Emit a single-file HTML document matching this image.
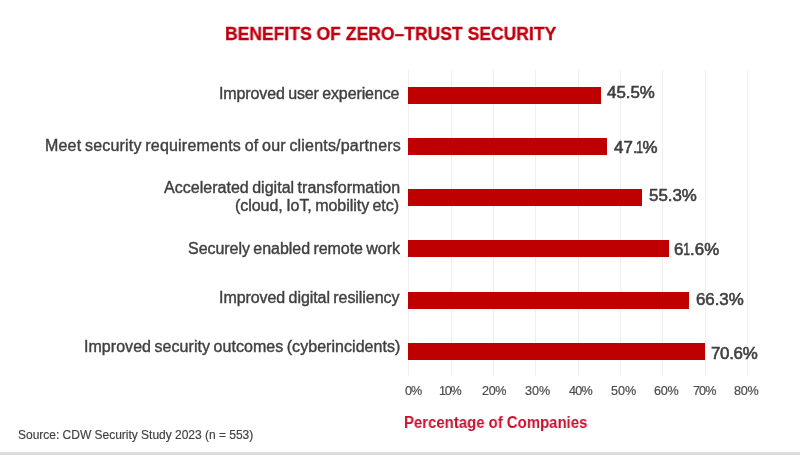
<!DOCTYPE html>
<html>
<head>
<meta charset="utf-8">
<style>
html,body{margin:0;padding:0;}
body{width:800px;height:455px;position:relative;overflow:hidden;background:#fff;font-family:"Liberation Sans",sans-serif;}
.t{position:absolute;white-space:nowrap;line-height:1;will-change:transform;}
.title{font-size:18.4px;font-weight:700;color:#C00010;-webkit-text-stroke:0.3px #C00010;}
.lab{font-size:16px;word-spacing:-1px;color:#404040;-webkit-text-stroke:0.4px #404040;}
.val{font-size:16.9px;color:#404040;-webkit-text-stroke:0.6px #404040;}
.ax{font-size:12.6px;color:#4d4d4d;-webkit-text-stroke:0.2px #4d4d4d;}
.pct{font-size:15.8px;font-weight:700;color:#C8102E;}
.src{font-size:12px;color:#404040;-webkit-text-stroke:0.15px #404040;}
.g{position:absolute;top:70px;height:306px;width:1px;background:#efefef;}
.bar{position:absolute;left:408.2px;background:#BF0000;}
.band{position:absolute;left:0;top:452px;width:800px;height:3px;background:linear-gradient(#e4e4e4,#dadada 50%,#d9d9d9);}
</style>
</head>
<body>
<div class="g" style="left:408.25px"></div>
<div class="g" style="left:450.6px"></div>
<div class="g" style="left:492.9px"></div>
<div class="g" style="left:535.3px"></div>
<div class="g" style="left:577.6px"></div>
<div class="g" style="left:619.95px"></div>
<div class="g" style="left:662.3px"></div>
<div class="g" style="left:704.6px"></div>
<div class="g" style="left:747px"></div>

<div class="bar" style="top:86.57px;height:17.43px;width:192.6px"></div>
<div class="bar" style="top:137.7px;height:17.7px;width:199.3px"></div>
<div class="bar" style="top:188.9px;height:17.5px;width:234.1px"></div>
<div class="bar" style="top:239.9px;height:17.4px;width:260.6px"></div>
<div class="bar" style="top:291.5px;height:17.2px;width:280.6px"></div>
<div class="bar" style="top:342.5px;height:17.5px;width:296.8px"></div>

<div class="t title" style="left:224.59px;top:24.57px;letter-spacing:0.000px;transform:scaleX(0.9534);transform-origin:0 0">BENEFITS OF ZERO–TRUST SECURITY</div>
<div class="t lab" style="left:219.09px;top:85.73px;letter-spacing:-0.110px">Improved user experience</div>
<div class="t lab" style="left:45.17px;top:137.54px;letter-spacing:0.195px">Meet security requirements of our clients/partners</div>
<div class="t lab" style="left:163.69px;top:179.50px;letter-spacing:0.021px">Accelerated digital transformation</div>
<div class="t lab" style="left:234.88px;top:197.98px;letter-spacing:-0.040px">(cloud, IoT, mobility etc)</div>
<div class="t lab" style="left:187.57px;top:241.33px;letter-spacing:-0.041px">Securely enabled remote work</div>
<div class="t lab" style="left:219.37px;top:289.61px;letter-spacing:-0.063px">Improved digital resiliency</div>
<div class="t lab" style="left:84.37px;top:339.20px;letter-spacing:0.045px">Improved security outcomes (cyberincidents)</div>
<div class="t val" style="left:607.30px;top:85.46px;letter-spacing:-0.006px">45.5%</div>
<div class="t val" style="left:614.30px;top:139.81px;letter-spacing:0.130px">47.<span style="display:inline-block;transform:scaleX(0.72);margin:0 -2.4px 0 -2.5px">1</span>%</div>
<div class="t val" style="left:649.18px;top:187.55px;letter-spacing:-0.008px">55.3%</div>
<div class="t val" style="left:673.87px;top:241.90px;letter-spacing:0.130px">6<span style="display:inline-block;transform:scaleX(0.72);margin:0 -1.4px 0 -1.8px">1</span>.6%</div>
<div class="t val" style="left:696.28px;top:291.88px;letter-spacing:-0.038px">66.3%</div>
<div class="t val" style="left:711.33px;top:345.54px;letter-spacing:-0.310px">70.6%</div>
<div class="t ax" style="left:404.74px;top:385.08px;letter-spacing:-1.079px">0%</div>
<div class="t ax" style="left:439.03px;top:385.10px;letter-spacing:-1.316px">10%</div>
<div class="t ax" style="left:481.78px;top:385.02px;letter-spacing:-0.364px">20%</div>
<div class="t ax" style="left:525.35px;top:385.12px;letter-spacing:-0.062px">30%</div>
<div class="t ax" style="left:568.60px;top:385.35px;letter-spacing:-0.729px">40%</div>
<div class="t ax" style="left:610.99px;top:384.60px;letter-spacing:-0.041px">50%</div>
<div class="t ax" style="left:654.19px;top:384.56px;letter-spacing:-0.298px">60%</div>
<div class="t ax" style="left:693.29px;top:384.79px;letter-spacing:-0.937px">70%</div>
<div class="t ax" style="left:734.23px;top:385.16px;letter-spacing:-0.202px">80%</div>
<div class="t pct" style="left:404.01px;top:415.33px;letter-spacing:0.000px;transform:scaleX(0.9450);transform-origin:0 0">Percentage of Companies</div>
<div class="t src" style="left:17.66px;top:428.96px;letter-spacing:-0.013px">Source: CDW Security Study 2023 (n = 553)</div>

<div class="band"></div>
</body>
</html>
